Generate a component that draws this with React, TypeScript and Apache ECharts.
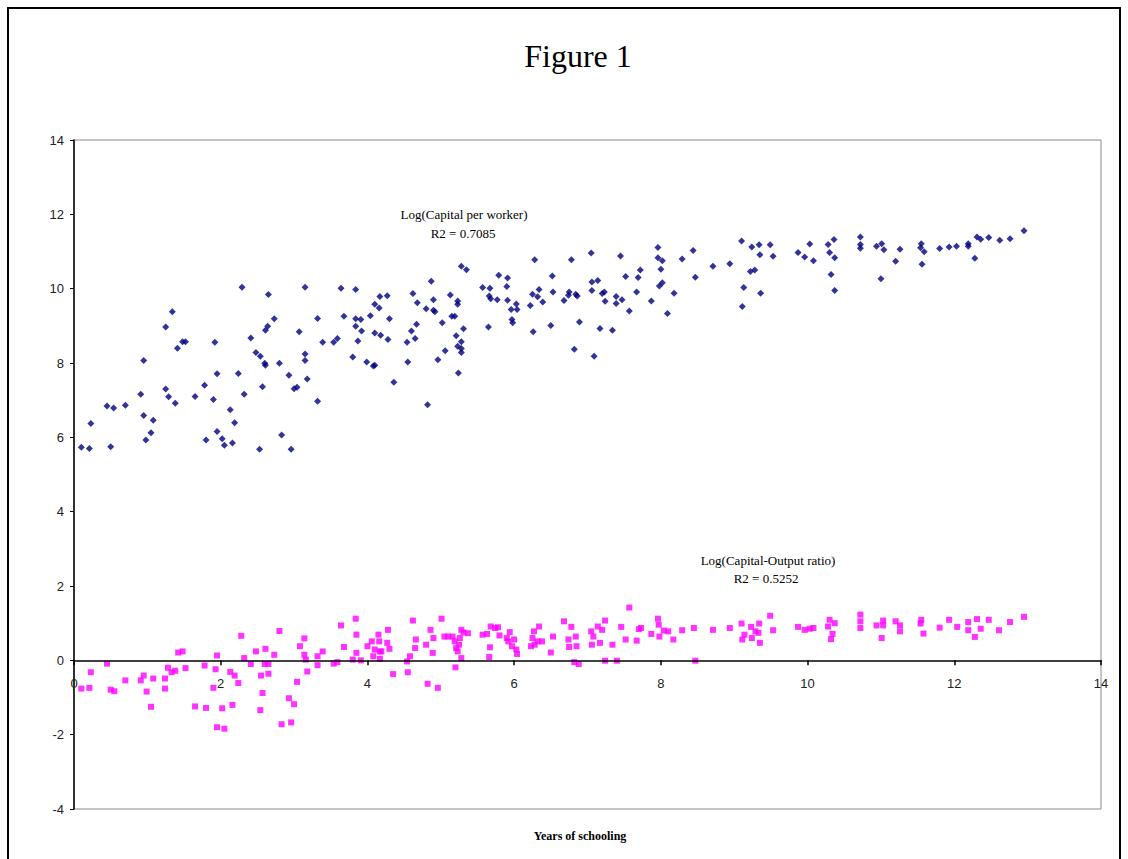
import React, { useEffect, useRef } from "react";
import * as echarts from "echarts";

const titleText = "Figure 1";
const xAxisTitle = "Years of schooling";
const capitalLabel = ["Log(Capital per worker)", "R2 = 0.7085"];
const ratioLabel = ["Log(Capital-Output ratio)", "R2 = 0.5252"];

const xTicks = { min: 0, max: 14, interval: 2 };
const yTicks = { min: -4, max: 14, interval: 2 };

const capitalPerWorker: number[][] = [
  [0.10,5.73],[0.21,5.70],[0.23,6.37],[0.45,6.84],[0.54,6.79],[0.50,5.75],[0.70,6.86],[0.91,7.16],[0.95,8.07],[0.95,6.59],
  [1.08,6.46],[1.05,6.12],[0.98,5.93],[1.25,8.97],[1.34,9.38],[1.25,7.30],[1.29,7.09],[1.38,6.92],[1.41,8.40],[1.48,8.57],
  [1.52,8.57],[1.65,7.10],[1.78,7.40],[1.90,7.02],[1.80,5.93],[1.92,8.56],[1.95,7.71],[1.95,6.16],[2.02,5.96],[2.05,5.79],
  [2.13,6.74],[2.19,6.39],[2.16,5.85],[2.24,7.72],[2.29,10.04],[2.32,7.16],[2.41,8.67],[2.48,8.28],[2.54,8.18],[2.60,7.99],
  [2.61,7.94],[2.57,7.36],[2.53,5.68],[2.61,8.88],[2.64,8.99],[2.65,9.84],[2.73,9.19],[2.80,7.99],[2.83,6.06],[2.93,7.67],
  [2.96,5.68],[3.00,7.31],[3.04,7.35],[3.07,8.84],[3.15,10.04],[3.15,8.24],[3.15,8.07],[3.18,7.57],[3.32,6.97],[3.32,9.20],
  [3.39,8.56],[3.54,8.56],[3.59,8.66],[3.64,10.01],[3.68,9.26],[3.80,8.16],[3.84,9.98],[3.84,9.19],[3.84,8.99],[3.87,8.59],
  [3.91,9.17],[3.92,8.86],[3.99,8.03],[4.04,9.27],[4.08,7.92],[4.10,7.94],[4.10,9.58],[4.10,8.81],[4.16,9.48],[4.17,9.79],
  [4.18,8.75],[4.27,9.81],[4.28,8.63],[4.30,9.19],[4.36,7.48],[4.54,8.56],[4.55,8.03],[4.60,8.86],[4.62,9.87],[4.65,8.66],
  [4.67,9.04],[4.68,9.62],[4.80,9.46],[4.82,6.88],[4.87,10.20],[4.90,9.70],[4.90,9.42],[4.92,9.38],[4.96,8.09],[5.02,9.08],
  [5.06,8.33],[5.13,9.83],[5.15,9.26],[5.19,9.26],[5.21,8.73],[5.23,9.67],[5.23,9.58],[5.23,8.45],[5.24,7.73],[5.28,8.57],
  [5.28,8.39],[5.28,8.28],[5.28,10.60],[5.31,8.92],[5.35,10.51],[5.57,10.03],[5.65,8.97],[5.66,9.80],[5.67,10.01],[5.68,9.73],
  [5.77,9.70],[5.79,10.36],[5.90,10.06],[5.91,10.29],[5.91,9.69],[5.96,9.44],[5.97,9.17],[5.98,9.08],[6.03,9.59],[6.04,9.44],
  [6.22,9.55],[6.25,9.85],[6.26,8.84],[6.28,10.78],[6.32,9.78],[6.34,9.98],[6.39,9.64],[6.50,9.01],[6.52,10.34],[6.53,9.91],
  [6.68,9.68],[6.74,9.82],[6.75,9.91],[6.78,10.78],[6.82,8.37],[6.84,9.85],[6.86,9.80],[6.89,9.10],[7.05,10.96],[7.06,10.18],
  [7.06,9.95],[7.09,8.18],[7.14,10.22],[7.17,8.93],[7.20,9.87],[7.23,9.91],[7.24,9.66],[7.34,8.88],
  [7.39,9.79],[7.39,9.60],[7.45,10.88],[7.47,9.70],[7.52,10.33],[7.57,9.40],[7.67,9.91],[7.69,10.30],[7.72,10.50],[7.87,9.67],
  [7.96,11.11],[7.96,10.83],[8.02,10.75],[8.00,10.52],[8.02,10.16],[7.98,10.07],[8.09,9.33],[8.18,9.88],[8.29,10.80],[8.44,11.03],
  [8.47,10.31],[8.71,10.60],[8.94,10.67],[9.10,11.28],[9.11,9.52],[9.13,10.03],[9.22,10.46],[9.24,11.12],[9.28,10.50],[9.34,11.18],
  [9.35,10.91],[9.36,9.88],[9.49,11.18],[9.53,10.87],[9.87,10.97],[9.96,10.85],[10.03,11.20],[10.08,10.75],[10.28,11.19],[10.30,10.97],
  [10.32,10.38],[10.36,11.32],[10.37,10.83],[10.37,9.95],[10.72,11.39],[10.72,11.19],[10.72,11.09],
  [10.94,11.14],[11.01,11.21],[11.04,11.05],[11.00,10.27],[11.20,10.74],[11.26,11.06],[11.55,11.21],[11.54,11.10],[11.59,10.99],
  [11.56,10.66],[11.80,11.08],[11.93,11.12],[12.03,11.14],[12.19,11.21],[12.19,11.14],[12.28,10.82],[12.31,11.39],[12.36,11.33],
  [12.47,11.38],[12.62,11.30],[12.76,11.34],[12.95,11.56],
];

const capitalOutputRatio: number[][] = [
  [0.10,-0.76],[0.21,-0.74],[0.23,-0.32],[0.45,-0.09],[0.50,-0.79],[0.55,-0.83],[0.70,-0.54],[0.91,-0.54],[0.95,-0.41],[0.99,-0.84],
  [1.05,-1.25],[1.08,-0.49],[1.24,-0.49],[1.24,-0.76],[1.28,-0.20],[1.33,-0.32],[1.38,-0.28],[1.42,0.21],[1.48,0.24],[1.52,-0.21],
  [1.65,-1.24],[1.78,-0.14],[1.80,-1.28],[1.90,-0.74],[1.93,-0.24],[1.95,0.13],[1.95,-1.80],[2.02,-1.29],[2.05,-1.84],[2.13,-0.31],
  [2.19,-0.41],[2.24,-0.61],[2.16,-1.20],[2.28,0.66],[2.32,0.06],[2.41,-0.10],[2.48,0.24],[2.54,-1.34],[2.55,-0.41],[2.57,-0.88],
  [2.60,-0.10],[2.61,0.31],[2.65,-0.10],[2.65,-0.36],[2.73,0.15],[2.80,0.79],[2.83,-1.72],[2.93,-1.02],[2.96,-1.67],[3.00,-1.18],
  [3.04,-0.58],[3.08,0.38],[3.14,0.59],[3.14,0.15],[3.16,0.02],[3.18,-0.30],[3.32,0.11],[3.32,-0.13],[3.39,0.24],[3.54,-0.09],
  [3.59,-0.05],[3.64,0.94],[3.68,0.36],[3.80,0.02],[3.84,1.12],[3.85,0.69],[3.85,0.20],
  [3.91,0.00],[4.00,0.38],[4.06,0.51],[4.08,0.11],[4.10,0.29],[4.15,0.69],[4.16,0.51],[4.17,0.24],[4.17,0.04],[4.19,0.24],
  [4.27,0.47],[4.28,0.82],[4.30,0.31],[4.35,-0.37],[4.54,-0.03],[4.55,-0.32],[4.58,0.11],[4.62,1.07],[4.65,0.33],[4.66,0.56],
  [4.80,0.42],[4.82,-0.63],[4.86,0.82],[4.89,0.20],[4.90,0.60],[4.96,-0.74],[5.01,1.12],[5.05,0.64],[5.10,0.64],[5.16,0.64],
  [5.19,0.51],[5.20,-0.19],[5.21,0.33],[5.23,0.24],[5.25,0.42],[5.26,0.60],[5.28,0.82],[5.28,0.06],[5.31,0.75],[5.37,0.73],
  [5.57,0.69],[5.63,0.71],[5.66,0.09],[5.67,0.35],[5.68,0.91],[5.74,0.87],[5.78,0.89],[5.80,0.67],[5.90,0.60],[5.92,0.51],
  [5.94,0.76],[5.97,0.38],[6.00,0.56],[6.03,0.29],[6.04,0.17],[6.23,0.38],[6.25,0.60],[6.27,0.78],[6.28,0.42],[6.32,0.51],
  [6.34,0.91],[6.38,0.51],[6.50,0.21],[6.53,0.64],[6.68,1.05],[6.74,0.56],[6.75,0.36],[6.78,0.90],[6.82,-0.05],[6.84,0.64],
  [6.85,0.38],[6.88,-0.10],[7.05,0.78],[7.06,0.42],[7.08,0.64],[7.14,0.91],[7.17,0.47],[7.20,0.82],[7.24,1.07],[7.24,-0.01],
  [7.34,0.42],
  [7.40,-0.01],[7.46,0.90],[7.52,0.56],[7.57,1.42],[7.67,0.53],[7.70,0.84],[7.73,0.87],[7.87,0.71],[7.96,1.12],[7.97,0.96],
  [7.98,0.64],[8.04,0.80],[8.10,0.78],[8.17,0.56],[8.29,0.81],[8.45,0.87],[8.47,-0.01],[8.71,0.82],[8.94,0.87],[9.10,0.99],
  [9.11,0.56],[9.14,0.69],[9.23,0.90],[9.24,0.60],[9.29,0.78],[9.34,0.99],[9.33,0.74],[9.35,0.47],[9.49,1.20],[9.53,0.81],
  [9.87,0.90],[9.96,0.82],[10.03,0.85],[10.08,0.87],[10.28,0.91],[10.30,1.09],[10.37,1.00],[10.34,0.71],[10.32,0.57],[10.72,1.23],
  [10.72,1.05],[10.72,0.87],
  [10.94,0.94],[11.03,1.07],[11.03,0.94],[11.01,0.60],[11.20,1.05],[11.26,0.94],[11.26,0.78],[11.55,1.09],[11.54,0.99],[11.58,0.72],
  [11.80,0.88],[11.93,1.09],[12.04,0.90],[12.19,1.03],[12.19,0.81],[12.28,0.63],[12.31,1.11],[12.36,0.85],[12.47,1.09],[12.61,0.81],
  [12.76,1.03],[12.95,1.17],
];

const SERIF = "'Liberation Serif', 'Times New Roman', serif";
const SANS = "'Liberation Sans', Arial, sans-serif";

const GRID_LEFT = 74;
const GRID_TOP = 140;
const GRID_WIDTH = 1027;
const GRID_HEIGHT = 669;
// height of the part of the plot above y = 0 (second grid ends on the zero line)
const aboveZeroHeight =
  (GRID_HEIGHT * (yTicks.max - 0)) / (yTicks.max - yTicks.min);

function textEl(x: number, y: number, text: string, font: string) {
  return {
    type: "text",
    x,
    y,
    style: { text, font, fill: "#000", textAlign: "center", textVerticalAlign: "middle" },
  };
}

export default function App() {
  const ref = useRef<HTMLDivElement>(null);
  useEffect(() => {
    if (!ref.current) return;
    const chart = echarts.init(ref.current, null, { renderer: "svg" });
    chart.setOption({
      animation: false,
      backgroundColor: "#ffffff",
      grid: [
        {
          left: GRID_LEFT,
          top: GRID_TOP,
          width: GRID_WIDTH,
          height: GRID_HEIGHT,
          show: true,
          borderColor: "#8a8a8a",
          borderWidth: 1,
          backgroundColor: "transparent",
        },
        {
          left: GRID_LEFT,
          top: GRID_TOP,
          width: GRID_WIDTH,
          height: aboveZeroHeight,
          show: false,
        },
      ],
      xAxis: [
        {
          type: "value",
          gridIndex: 0,
          min: xTicks.min,
          max: xTicks.max,
          interval: xTicks.interval,
          axisLine: { show: false },
          axisTick: { show: false },
          axisLabel: { show: false },
          splitLine: { show: false },
        },
        {
          type: "value",
          gridIndex: 1,
          min: xTicks.min,
          max: xTicks.max,
          interval: xTicks.interval,
          z: 10,
          axisLine: { show: true, onZero: false, lineStyle: { color: "#000", width: 1.5 } },
          axisTick: { show: true, length: 5, lineStyle: { color: "#000", width: 1.5 } },
          axisLabel: {
            color: "#222",
            fontFamily: SANS,
            fontSize: 13,
            margin: 17,
            hideOverlap: false,
            showMinLabel: true,
            showMaxLabel: true,
          },
          splitLine: { show: false },
        },
      ],
      yAxis: [
        {
          type: "value",
          gridIndex: 0,
          min: yTicks.min,
          max: yTicks.max,
          interval: yTicks.interval,
          axisLine: { show: true, onZero: false, lineStyle: { color: "#000", width: 1.5 } },
          axisTick: { show: true, length: 4, lineStyle: { color: "#000", width: 1 } },
          axisLabel: { color: "#222", fontFamily: SANS, fontSize: 13, margin: 10, hideOverlap: false },
          splitLine: { show: false },
        },
        {
          type: "value",
          gridIndex: 1,
          min: 0,
          max: yTicks.max,
          show: false,
          splitLine: { show: false },
        },
      ],
      series: [
        {
          name: capitalLabel[0],
          type: "scatter",
          xAxisIndex: 0,
          yAxisIndex: 0,
          data: capitalPerWorker,
          symbol: "diamond",
          symbolSize: 7,
          itemStyle: { color: "#000080" },
        },
        {
          name: ratioLabel[0],
          type: "scatter",
          xAxisIndex: 0,
          yAxisIndex: 0,
          data: capitalOutputRatio,
          symbol: "rect",
          symbolSize: 6,
          itemStyle: { color: "#ff00ff" },
        },
      ],
      graphic: [
        {
          type: "rect",
          shape: { x: 8, y: 8, width: 1112, height: 900 },
          style: { fill: "none", stroke: "#000", lineWidth: 2 },
          silent: true,
        },
        textEl(578, 56, titleText, `32px ${SERIF}`),
        textEl(464, 214, capitalLabel[0], `13px ${SERIF}`),
        textEl(463, 233, capitalLabel[1], `13px ${SERIF}`),
        textEl(768, 560, ratioLabel[0], `13px ${SERIF}`),
        textEl(766, 578, ratioLabel[1], `13px ${SERIF}`),
        textEl(580, 836, xAxisTitle, `bold 12px ${SERIF}`),
      ],
    });
    return () => chart.dispose();
  }, []);
  return (
    <div
      ref={ref}
      style={{ position: "absolute", left: 0, top: 0, width: 1128, height: 859, overflow: "hidden" }}
    />
  );
}
